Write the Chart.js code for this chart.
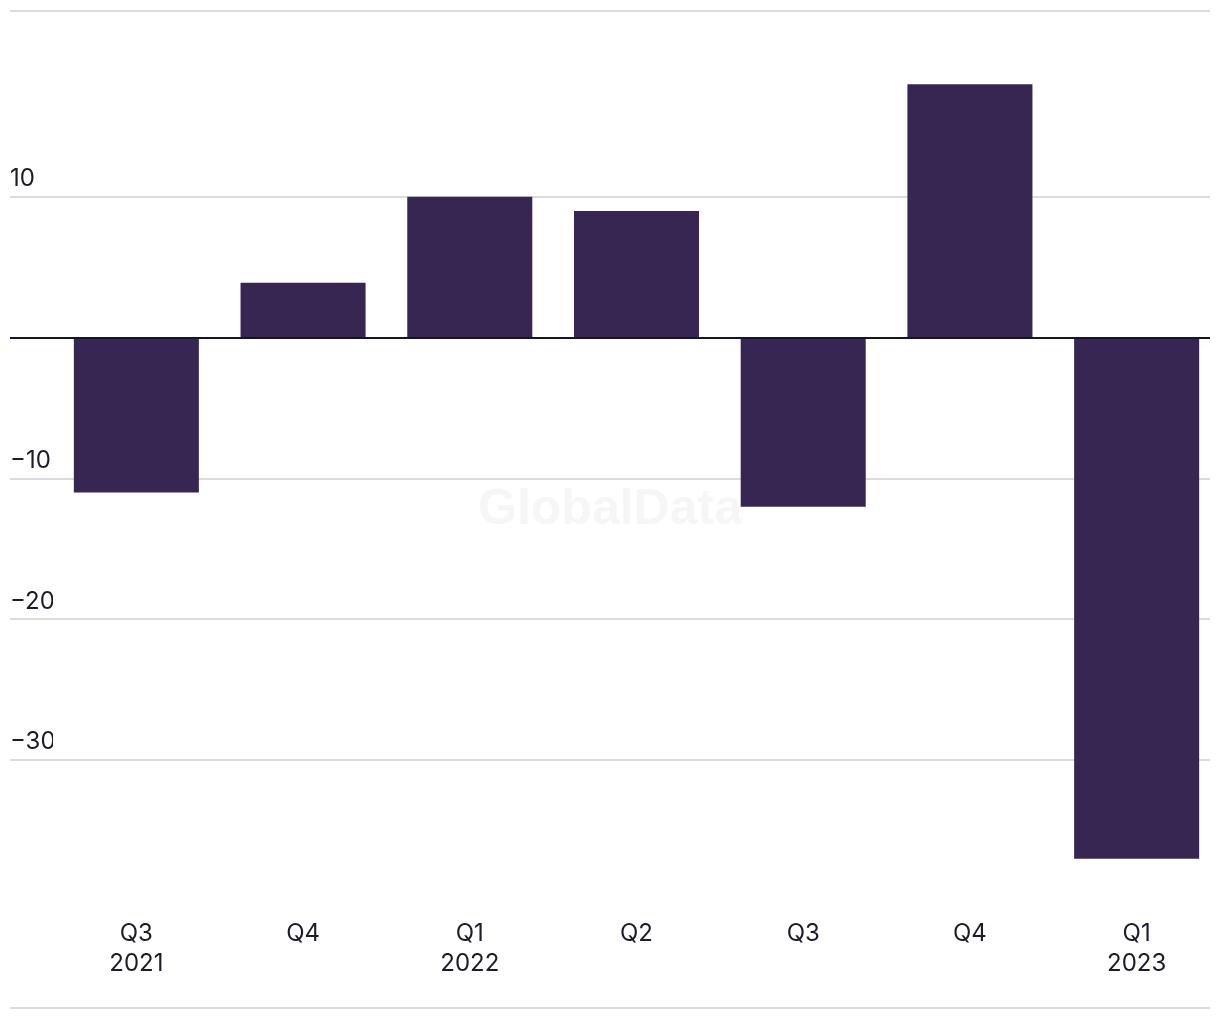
<!DOCTYPE html>
<html>
<head>
<meta charset="utf-8">
<script src="https://cdn.jsdelivr.net/npm/chart.js@4/dist/chart.umd.min.js"></script>
<style>
  html, body { margin: 0; padding: 0; background: #fff; overflow: hidden; }
  #wrap { width: 1220px; height: 1020px; }
</style>
</head>
<body>
<div id="wrap"><canvas id="myChart"></canvas></div>
<script>
let quarters = [["Q3", "2021"], ["Q4"], ["Q1", "2022"], ["Q2"], ["Q3"], ["Q4"], ["Q1", "2023"]];
let values = [-11, 3.9, 10, 9, -12, 18, -37];
let yTicks = [10, 0, -10, -20, -30];

let textColor = "#1c1b2e";
let barColor = "#372652";
let gridColor = "#dcdcdc";

// grid lines run wider than the plot area, so draw them here
let decor = {
    id: "decor",
    beforeDatasetsDraw(chart) {
        let ctx = chart.ctx;
        let y = chart.scales.y;
        ctx.save();
        ctx.font = "bold 50px 'Liberation Sans', Arial, sans-serif";
        ctx.fillStyle = "#f6f6f6";
        ctx.textAlign = "center";
        ctx.textBaseline = "middle";
        ctx.fillText("GlobalData", 610, 510);

        ctx.strokeStyle = gridColor;
        ctx.lineWidth = 2;
        yTicks.forEach(v => {
            if (v === 0) return;
            let py = Math.round(y.getPixelForValue(v));
            ctx.beginPath();
            ctx.moveTo(10, py);
            ctx.lineTo(1210, py);
            ctx.stroke();
        });
        ctx.beginPath();
        ctx.moveTo(10, 11);
        ctx.lineTo(1210, 11);
        ctx.moveTo(10, 1008);
        ctx.lineTo(1210, 1008);
        ctx.stroke();
        ctx.restore();
    },
    afterDatasetsDraw(chart) {
        let ctx = chart.ctx;
        let py = Math.round(chart.scales.y.getPixelForValue(0));
        ctx.save();
        ctx.strokeStyle = "#16142a";
        ctx.lineWidth = 2;
        ctx.beginPath();
        ctx.moveTo(10, py);
        ctx.lineTo(1210, py);
        ctx.stroke();
        ctx.restore();
    }
};

let myChart = new Chart(document.getElementById("myChart").getContext("2d"), {
    type: "bar",
    data: {
        labels: quarters,
        datasets: [{
            data: values,
            backgroundColor: barColor,
            borderWidth: 0,
            barPercentage: 0.75,
            categoryPercentage: 1
        }]
    },
    options: {
        responsive: true,
        maintainAspectRatio: false,
        animation: false,
        layout: { padding: { left: 10, right: 0, top: 56, bottom: 31 } },
        plugins: {
            legend: { display: false },
            tooltip: { enabled: false }
        },
        scales: {
            x: {
                grid: { display: false },
                border: { display: false },
                ticks: {
                    color: textColor,
                    font: { family: "Inter, 'Liberation Sans', sans-serif", size: 24, lineHeight: 1.25 },
                    padding: 10,
                    maxRotation: 0,
                    autoSkip: false
                }
            },
            y: {
                min: -40,
                max: 20,
                afterBuildTicks(scale) {
                    scale.ticks = yTicks.map(v => ({ value: v }));
                },
                afterFit(scale) {
                    scale.width = 43;
                },
                grid: { display: false },
                border: { display: false },
                ticks: {
                    color: textColor,
                    font: { family: "Inter, 'Liberation Sans', sans-serif", size: 24 },
                    crossAlign: "far",
                    labelOffset: -18,
                    callback: v => v === 0 ? "" : (v < 0 ? "\u2212" + Math.abs(v) : String(v))
                }
            }
        }
    },
    plugins: [decor]
});
</script>
</body>
</html>
